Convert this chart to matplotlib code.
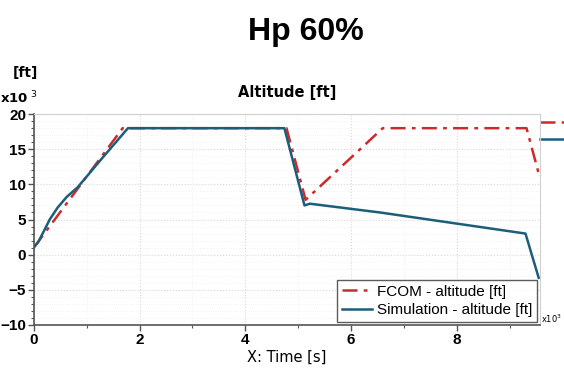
import numpy as np
import matplotlib.pyplot as plt
from matplotlib.ticker import MultipleLocator

# ---- data (time in 10^3 s, altitude in 10^3 ft) ----
t_fcom = [0.0, 1.68, 4.78, 5.14, 6.60, 9.32, 9.57]
alt_fcom = [1.0, 18.0, 18.0, 7.8, 18.0, 18.0, 11.0]

t_sim = [0.0, 0.08, 0.18, 0.30, 0.45, 0.62, 0.83, 1.30, 1.78,
         4.74, 5.12, 5.22, 6.55, 9.30, 9.55]
alt_sim = [1.1, 1.75, 3.2, 5.0, 6.7, 8.2, 9.6, 13.8, 18.0,
           18.0, 7.0, 7.25, 6.0, 3.0, -3.3]

# stubs of the next panel poking in at the right edge
t_stub = [9.58, 10.05]
alt_stub_fcom = [18.9, 18.9]
alt_stub_sim = [16.4, 16.4]

RED = "#cc2b2b"
BLUE = "#1c5e7a"
DASHDOT = (0, (6, 2.5, 1.5, 2.5))

fig = plt.figure(figsize=(5.64, 3.73), dpi=100)
ax = fig.add_axes([0.060, 0.129, 0.897, 0.565])

ax.plot(t_fcom, alt_fcom, color=RED, lw=1.8, ls=DASHDOT,
        label="FCOM - altitude [ft]")
ax.plot(t_sim, alt_sim, color=BLUE, lw=1.8, label="Simulation - altitude [ft]")
ax.plot(t_stub, alt_stub_fcom, color=RED, lw=1.8, ls=DASHDOT, clip_on=False)
ax.plot(t_stub, alt_stub_sim, color=BLUE, lw=1.8, clip_on=False)

ax.set_xlim(0, 9.57)
ax.set_ylim(-10, 20)
ax.xaxis.set_major_locator(MultipleLocator(2))
ax.xaxis.set_minor_locator(MultipleLocator(1))
ax.yaxis.set_major_locator(MultipleLocator(5))
ax.yaxis.set_minor_locator(MultipleLocator(1))
ax.grid(True, which="major", color="#d8d8d8", ls=":", lw=0.8)
ax.grid(True, which="minor", color="#efefef", ls=":", lw=0.6)
ax.tick_params(which="major", length=4, width=1, color="#555555", pad=1.5)
ax.tick_params(which="minor", length=2.5, width=0.8, color="#555555")
for lab in ax.get_xticklabels() + ax.get_yticklabels():
    lab.set_fontfamily("Liberation Sans")
    lab.set_fontweight("bold")
    lab.set_fontsize(11)

for s in ("left", "bottom"):
    ax.spines[s].set_color("#555555")
    ax.spines[s].set_linewidth(1.2)
for s in ("top", "right"):
    ax.spines[s].set_color("#d0d0d0")
    ax.spines[s].set_linewidth(0.8)

leg = ax.legend(loc="lower right", frameon=True, fancybox=False,
                prop={"family": "Liberation Sans", "size": 11},
                borderaxespad=0.2, handlelength=2.0, handletextpad=0.3,
                borderpad=0.3, labelspacing=0.3)
leg.get_frame().set_edgecolor("#333333")
leg.get_frame().set_linewidth(1.0)

fig.text(0.543, 0.914, "Hp 60%", ha="center", va="center",
         fontsize=23, fontweight="bold", family="Liberation Sans")
ax.set_title("Altitude [ft]", fontsize=10.5, fontweight="bold", pad=12)
fig.text(0.022, 0.805, "[ft]", ha="left", va="center", fontsize=10,
         fontweight="bold")
fig.text(0.0, 0.738, r"x10$^{\ 3}$", ha="left", va="center", fontsize=9.5,
         fontweight="bold")
fig.text(0.96, 0.145, r"x10$^{3}$", ha="left", va="center", fontsize=6)
ax.set_xlabel("X: Time [s]", fontsize=10.5, labelpad=2)

fig.savefig("out.png", dpi=100)
